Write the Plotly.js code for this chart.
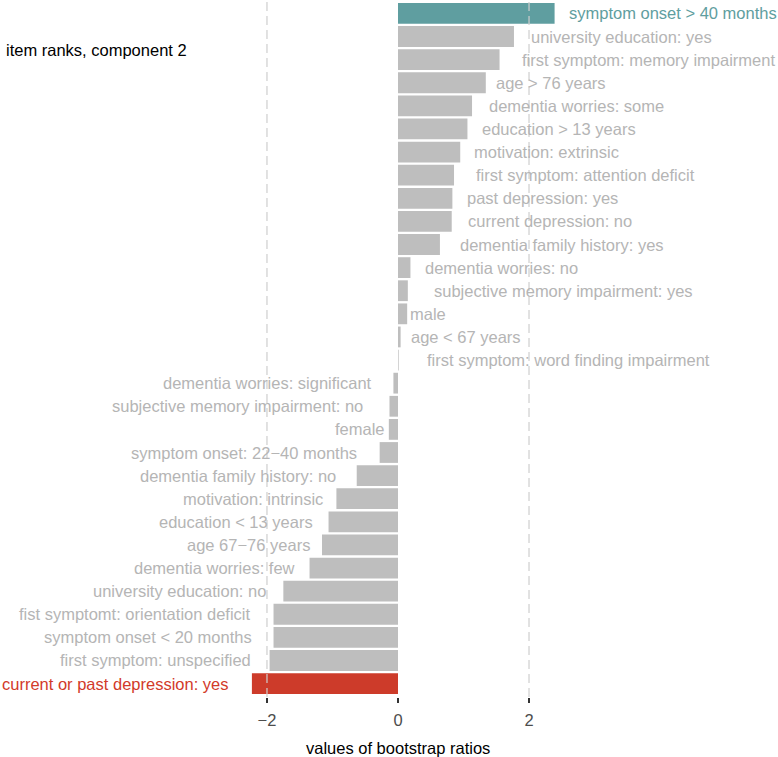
<!DOCTYPE html>
<html>
<head>
<meta charset="utf-8">
<script src="https://cdn.plot.ly/plotly-3.0.1.min.js"></script>
<style>html,body{margin:0;padding:0;background:#fff;}#chart{width:778px;height:757px;}</style>
</head>
<body>
<div id="chart"></div>
<script>
// ---- data (top to bottom) ----
const categories = [
  "symptom onset > 40 months",
  "university education: yes",
  "first symptom: memory impairment",
  "age > 76 years",
  "dementia worries: some",
  "education > 13 years",
  "motivation: extrinsic",
  "first symptom: attention deficit",
  "past depression: yes",
  "current depression: no",
  "dementia family history: yes",
  "dementia worries: no",
  "subjective memory impairment: yes",
  "male",
  "age < 67 years",
  "first symptom: word finding impairment",
  "dementia worries: significant",
  "subjective memory impairment: no",
  "female",
  "symptom onset: 22\u221240 months",
  "dementia family history: no",
  "motivation: intrinsic",
  "education < 13 years",
  "age 67\u221276 years",
  "dementia worries: few",
  "university education: no",
  "fist symptomt: orientation deficit",
  "symptom onset < 20 months",
  "first symptom: unspecified",
  "current or past depression: yes"
];
const bootstrapRatios = [
  2.39, 1.77, 1.55, 1.34, 1.13, 1.06, 0.95, 0.855, 0.83, 0.82,
  0.64, 0.19, 0.15, 0.14, 0.04, 0.01, -0.07, -0.13, -0.14, -0.28,
  -0.63, -0.94, -1.06, -1.16, -1.35, -1.75, -1.90, -1.90, -1.96, -2.23
];
const highlightTop = "symptom onset > 40 months";
const highlightBottom = "current or past depression: yes";
const tickValues = [-2, 0, 2];
const thresholds = [-2, 2];
const titleText = "item ranks, component 2";
const xTitleText = "values of bootstrap ratios";

// ---- styling (repelled label nudges in px, per row) ----
const labelNudge = [15, 18, 23, 11, 18, 16, 15, 23, 16, 17, 21, 16, 27, 4, 11, 29,
  -22, -27, -5, -24, -22, -14, -17, -13, -16, -18, -24, -23, -20, -24];
const PADFIX = 3; // annotation inner padding compensation

const TEAL = "#5f9ea0", RED = "#cd3b2a", GREY = "#bebebe", LABELGREY = "#b5b5b5";
const FONT = "Liberation Sans, Arial, Helvetica, sans-serif";

const barColors = categories.map(c => c === highlightTop ? TEAL : (c === highlightBottom ? RED : GREY));
const labelColors = categories.map(c => c === highlightTop ? TEAL : (c === highlightBottom ? "#d23a2a" : LABELGREY));

const trace = {
  type: "bar",
  orientation: "h",
  x: bootstrapRatios,
  y: categories,
  marker: {color: barColors, line: {width: 0}},
  hoverinfo: "x+y"
};

const annotations = categories.map((c, i) => ({
  x: bootstrapRatios[i], y: c, xref: "x", yref: "y",
  text: c, showarrow: false,
  xanchor: bootstrapRatios[i] >= 0 ? "left" : "right",
  yanchor: "middle",
  xshift: labelNudge[i] - Math.sign(labelNudge[i]) * PADFIX,
  font: {family: FONT, size: 16.5, color: labelColors[i]}
}));
annotations.push({
  xref: "paper", yref: "paper", x: -14/760, y: 1 - 50/697,
  xanchor: "left", yanchor: "middle", showarrow: false,
  text: titleText, font: {family: FONT, size: 16.5, color: "#000"}
});
annotations.push({
  xref: "paper", yref: "paper", x: 0.5, y: -51/697,
  xanchor: "center", yanchor: "middle", showarrow: false,
  text: xTitleText, font: {family: FONT, size: 16.5, color: "#000"}
});

const shapes = thresholds.map(t => ({
  type: "line", xref: "x", yref: "paper", x0: t, x1: t, y0: 0, y1: 1,
  layer: "above",
  line: {color: "rgba(205,205,205,0.75)", width: 1.6, dash: "9px,5px"}
}));

const layout = {
  width: 778, height: 757,
  margin: {l: 18, r: 0, t: 0, b: 60, pad: 0},
  paper_bgcolor: "#fff", plot_bgcolor: "#fff",
  showlegend: false,
  bargap: 0.1,
  font: {family: FONT, size: 16.5, color: "#4d4d4d"},
  xaxis: {
    range: [-5.8, 5.8], tickvals: tickValues, ticktext: tickValues.map(v => v < 0 ? "\u2212" + Math.abs(v) : String(v)),
    ticks: "outside", ticklen: 5, tickwidth: 1.1, tickcolor: "#333",
    ticklabelstandoff: 3,
    showgrid: false, zeroline: false, showline: false,
    tickfont: {family: FONT, size: 16.5, color: "#4d4d4d"},
    fixedrange: true
  },
  yaxis: {
    type: "category", range: [categories.length - 1 + 0.58, -0.58], autorange: false,
    showticklabels: false, ticks: "", showgrid: false, zeroline: false, showline: false,
    fixedrange: true
  },
  annotations: annotations,
  shapes: shapes
};

Plotly.newPlot("chart", [trace], layout, {displayModeBar: false, staticPlot: true});
</script>
</body>
</html>
